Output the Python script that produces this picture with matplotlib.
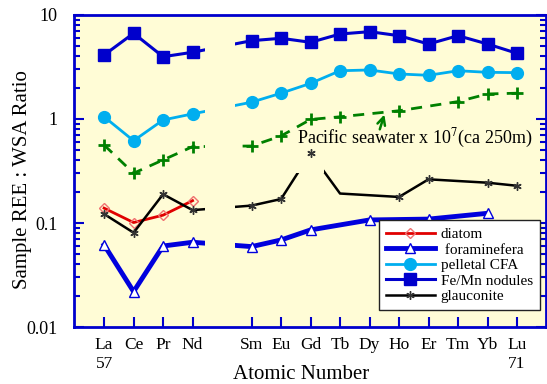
import matplotlib.pyplot as plt
from matplotlib.ticker import FixedLocator, LogLocator, NullFormatter, NullLocator

plt.rcParams['font.family'] = ['Liberation Serif', 'DejaVu Serif']
plt.rcParams['mathtext.fontset'] = 'stix'

# REE ratios normalised to WSA, by atomic number (Pm omitted)
elements = ['La', 'Ce', 'Pr', 'Nd', 'Sm', 'Eu', 'Gd', 'Tb', 'Dy', 'Ho', 'Er', 'Tm', 'Yb', 'Lu']
atomic_no = [57, 58, 59, 60, 62, 63, 64, 65, 66, 67, 68, 69, 70, 71]

diatom_z = [57, 58, 59, 60]
diatom = [0.139, 0.101, 0.119, 0.164]

foram_z = [57, 58, 59, 60, 62, 63, 64, 66, 68, 70]
foram = [0.0616, 0.0219, 0.0601, 0.0653, 0.0593, 0.0687, 0.0858, 0.107, 0.109, 0.124]

cfa = [1.05, 0.618, 0.978, 1.12, 1.45, 1.77, 2.20, 2.91, 2.96, 2.71, 2.63, 2.91, 2.81, 2.79]

femn = [4.12, 6.67, 3.97, 4.38, 5.66, 5.97, 5.46, 6.56, 6.91, 6.32, 5.26, 6.32, 5.26, 4.28]

glauc_z = [57, 58, 59, 60, 62, 63, 64, 65, 67, 68, 70, 71]
glauc = [0.122, 0.0807, 0.189, 0.133, 0.147, 0.170, 0.471, 0.192, 0.178, 0.263, 0.244, 0.228]

sea_z = [57, 58, 59, 60, 62, 63, 64, 65, 67, 69, 70, 71]
seawater = [0.562, 0.301, 0.404, 0.542, 0.55, 0.687, 0.99, 1.05, 1.20, 1.47, 1.74, 1.77]

bg = '#fffcd6'
axis_blue = '#0000cc'

fig = plt.figure(figsize=(5.47, 3.84), dpi=100)
ax = fig.add_axes([0.1353, 0.1484, 0.8627, 0.8126])
ax.set_facecolor(bg)
ax.set_yscale('log')
ax.set_xlim(55.98, 71.98)
ax.set_ylim(0.01, 10)

ax.plot(diatom_z, diatom, color='#e00000', lw=2, marker='D', ms=5.5,
        mfc='none', mec='#f07070', mew=1, label='diatom', zorder=2)
ax.plot(foram_z, foram, color='#0000dd', lw=3.5, marker='^', ms=7,
        mfc='white', mec='#0000dd', mew=1, label=' foraminefera', zorder=2)
ax.plot(atomic_no, cfa, color='#00aeef', lw=2, marker='o', ms=8.5,
        label='pelletal CFA', zorder=2)
ax.plot(atomic_no, femn, color='#0000cc', lw=2.2, marker='s', ms=8,
        label='Fe/Mn nodules', zorder=2)
ax.plot(glauc_z, glauc, color='black', lw=1.8, marker=(6, 2, 0), ms=6,
        mec='#333333', mew=1, markevery=[0, 1, 2, 3, 4, 5, 8, 9, 10, 11],
        label='glauconite', zorder=2)
ax.plot(sea_z, seawater, color='#008000', lw=2, ls=(0, (4, 3)), marker='+',
        ms=9, mew=2, zorder=2)

# break every line across the missing Pm position
ax.axvspan(60.42, 61.44, color=bg, lw=0, zorder=2.5)
# and the glauconite line around the Gd point
ax.fill_between([63.5, 64.47], 0.305, 0.62, color=bg, lw=0, zorder=2.5)
ax.plot(glauc_z[6], glauc[6], ls='none', marker=(6, 2, 0), ms=6,
        mec='#333333', mew=1, zorder=3)

ax.text(63.54, 0.581, 'Pacific seawater x 10$^{7}$(ca 250m)', fontsize=13,
        va='baseline', ha='left', zorder=5)
ax.annotate('', xy=(66.53, 1.17), xytext=(66.32, 0.75),
            arrowprops=dict(arrowstyle='->', color='#008000', lw=1.8,
                            mutation_scale=14), zorder=5)

for s in ax.spines.values():
    s.set_color(axis_blue)
    s.set_linewidth(2)

ax.xaxis.set_major_locator(FixedLocator(atomic_no))
ax.xaxis.set_minor_locator(NullLocator())
xlabels = [e for e in elements]
xlabels[0] = 'La\n57'
xlabels[-1] = 'Lu\n71'
ax.set_xticklabels(xlabels, fontsize=12.5, linespacing=1.3, va='top')

ax.yaxis.set_major_locator(FixedLocator([0.01, 0.1, 1, 10]))
ax.yaxis.set_minor_locator(LogLocator(base=10, subs=range(2, 10)))
ax.yaxis.set_minor_formatter(NullFormatter())
ax.set_yticklabels(['0.01', '0.1', '1', '10'], fontsize=13)

ax.tick_params(which='both', direction='in', color=axis_blue, width=1.5,
               top=False, right=True)
ax.tick_params(which='major', length=7)
ax.tick_params(which='minor', length=4)
ax.tick_params(axis='y', pad=12)
ax.tick_params(axis='x', pad=7)

ax.set_xlabel('Atomic Number', fontsize=15)
ax.xaxis.set_label_coords(0.482, -0.122)
ax.set_ylabel('Sample REE : WSA Ratio', fontsize=15)
ax.yaxis.set_label_coords(-0.09, 0.474)

leg = ax.legend(loc='lower right', bbox_to_anchor=(0.987, 0.0545), fontsize=11,
                frameon=True, fancybox=False, framealpha=1, edgecolor='#222222',
                handlelength=3.2, labelspacing=0.12, borderpad=0.45,
                handletextpad=0.4, borderaxespad=0)
leg.get_frame().set_linewidth(1)

fig.savefig('out.png', dpi=100)
